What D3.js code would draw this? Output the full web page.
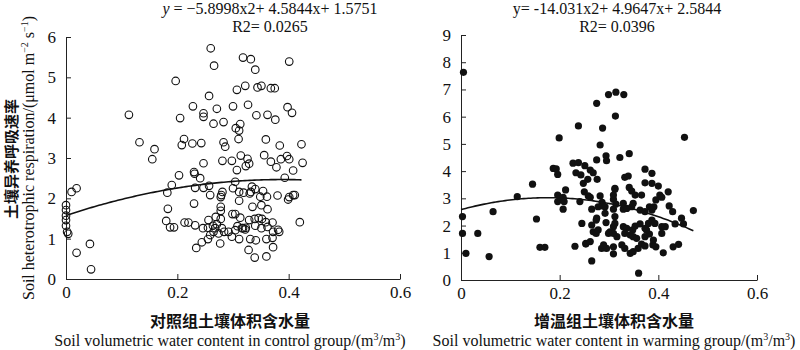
<!DOCTYPE html>
<html><head><meta charset="utf-8">
<script src="https://cdn.jsdelivr.net/npm/d3@7"></script>
<style>
body{margin:0;background:#fff;}
svg text{font-family:"Liberation Serif","Times New Roman",serif;fill:#111;}
svg text.cn{font-family:"Noto Sans CJK SC",sans-serif;font-weight:700;}
</style></head>
<body><svg id="c" width="800" height="350"></svg>
<script>
// ---- data ----
const ctrlX = [0,0,0,0,0,0.002,0.004,0.010,0.019,0.043,0.019,0.045,0.113,0.132,0.159,0.155,
0.260,0.318,0.332,0.401,0.266,0.340,0.197,0.307,0.322,0.344,0.351,0.368,0.375,0.257,0.228,0.271,0.300,0.327,0.398,0.406,
0.205,0.247,0.247,0.265,0.283,0.313,0.342,0.362,0.376,0.305,0.311,0.310,0.212,0.208,0.227,0.243,0.283,0.286,0.359,0.384,
0.247,0.281,0.298,0.314,0.326,0.329,0.323,0.307,0.356,0.368,0.386,0.397,0.401,0.378,0.408,0.393,0.230,0.231,0.203,0.241,
0.190,0.182,0.232,0.247,0.257,0.281,0.279,0.278,0.259,0.300,0.304,0.311,0.319,0.311,0.330,0.334,0.340,0.332,0.354,0.349,
0.361,0.380,0.401,0.408,0.183,0.230,0.278,0.278,0.269,0.299,0.304,0.313,0.335,0.351,0.362,0.180,0.187,0.194,0.213,0.220,
0.232,0.246,0.256,0.255,0.264,0.268,0.271,0.259,0.265,0.274,0.278,0.280,0.284,0.292,0.304,0.308,0.316,0.318,0.322,0.323,
0.329,0.339,0.346,0.352,0.340,0.351,0.359,0.362,0.371,0.372,0.381,0.383,0.234,0.244,0.255,0.277,0.298,0.311,0.331,0.341,
0.360,0.371,0.372,0.328,0.339,0.360,0.423,0.425,0.411,0.399,0.420];
const ctrlY = [1.83,1.71,1.57,1.46,1.32,1.17,1.12,2.16,2.25,0.87,0.65,0.24,4.07,3.39,3.22,2.97,
5.72,5.49,5.45,5.39,5.29,5.19,4.91,4.69,4.79,4.75,4.79,4.73,4.73,4.54,4.28,4.22,4.28,4.32,4.26,4.12,
3.99,4.11,4.02,3.85,3.89,3.84,4.06,4.07,3.95,3.74,3.68,3.47,3.47,3.32,3.36,3.37,3.39,3.28,3.46,3.31,
2.87,2.93,2.93,3.06,2.98,2.86,2.80,2.70,3.07,2.91,2.97,3.05,2.97,2.77,2.69,2.51,2.65,2.61,2.57,2.50,
2.33,2.14,2.26,2.26,2.31,2.16,2.08,2.03,2.08,2.25,2.41,2.16,2.14,1.94,2.12,2.29,2.23,2.16,2.18,2.04,
2.04,2.07,2.03,2.08,1.74,1.87,1.79,1.69,1.54,1.61,1.61,1.52,1.79,1.83,1.73,1.44,1.28,1.28,1.40,1.40,
1.33,1.26,1.46,1.27,1.32,1.26,1.36,1.09,1.17,1.13,1.49,1.26,1.17,1.17,1.21,1.31,1.26,1.26,1.23,1.27,
1.46,1.49,1.51,1.49,1.32,1.26,1.41,1.29,1.40,1.17,1.22,1.17,0.77,0.91,0.99,0.88,1.05,0.99,0.99,0.96,
0.99,1.02,0.79,0.72,0.53,0.56,3.34,2.88,2.08,1.97,1.41];

const warmX = [0.005,0.275,0.299,0.314,0.330,0.313,0.238,0.287,0.453,0.199,0.282,0.294,0.322,0.341,0.275,0.187,0.193,0.196,
0.227,0.238,0.233,0.243,0.251,0.262,0.268,0.257,0.276,0.295,0.145,0.114,0.065,0.003,0.153,0.196,0.196,0.207,0.212,0.207,
0.241,0.245,0.250,0.258,0.262,0.265,0.274,0.282,0.286,0.292,0.309,0.312,0.309,0.312,0.329,0.203,0.209,0.248,0.003,0.034,
0.010,0.057,0.160,0.170,0.231,0.253,0.265,0.360,0.332,0.339,0.373,0.387,0.373,0.387,0.400,0.312,0.309,0.341,0.346,0.353,
0.366,0.420,0.403,0.395,0.407,0.278,0.288,0.314,0.329,0.336,0.346,0.349,0.363,0.373,0.382,0.387,0.391,0.422,0.429,0.471,
0.447,0.434,0.451,0.275,0.292,0.294,0.309,0.312,0.329,0.336,0.348,0.353,0.363,0.373,0.380,0.387,0.393,0.407,0.414,0.268,
0.274,0.278,0.302,0.309,0.316,0.332,0.343,0.349,0.356,0.373,0.382,0.407,0.253,0.262,0.285,0.295,0.309,0.326,0.332,0.343,
0.349,0.359,0.366,0.373,0.389,0.395,0.410,0.430,0.441,0.265,0.299,0.289,0.309,0.376,0.390];
const warmY = [7.63,6.49,6.81,6.90,6.81,6.02,5.66,5.58,5.24,5.22,4.96,4.56,4.50,4.64,4.41,4.10,4.08,3.88,
4.29,4.31,3.94,3.86,4.20,4.04,3.94,3.70,3.70,4.38,3.52,3.06,2.51,2.33,2.24,3.12,2.88,3.04,3.31,2.60,
2.88,2.08,3.24,3.09,3.04,2.60,2.20,3.09,2.85,2.69,2.96,3.33,2.60,2.33,2.60,2.96,2.88,3.55,1.71,1.71,
0.98,0.86,1.20,1.20,1.24,1.32,0.70,0.25,3.77,3.82,4.07,3.92,3.57,3.55,3.45,3.37,3.12,3.40,3.27,3.12,
3.12,3.24,3.12,2.94,3.04,2.69,2.72,2.79,2.82,2.63,2.69,2.82,2.57,2.51,2.69,2.57,2.69,2.72,2.51,2.55,
2.27,2.06,2.06,2.27,2.45,2.11,1.96,2.08,1.96,1.90,1.84,1.98,2.06,1.90,2.08,2.20,2.08,1.96,1.96,1.77,
1.71,1.84,1.77,1.71,1.59,1.71,1.65,1.59,1.53,1.59,1.69,1.71,1.35,1.41,1.16,1.16,0.96,1.29,1.16,0.98,
1.04,1.16,1.32,1.25,1.29,1.22,1.00,1.22,1.31,2.02,1.71,1.29,1.22,1.84,1.47];

const xTicks = [0,0.2,0.4,0.6];
const ctrlYTicks = [0,1,2,3,4,5,6];
const warmYTicks = [0,1,2,3,4,5,6,7,8,9];
const ctrlCoef = [-5.8998, 4.5844, 1.5751];
const warmCoef = [-14.031, 4.9647, 2.5844];
const ctrlFitRange = [0, 0.423];
const warmFitRange = [0, 0.471];
const ctrlEq = "y = −5.8998x2+ 4.5844x+ 1.5751";
const ctrlR2 = "R2= 0.0265";
const warmEq = "y= -14.031x2+ 4.9647x+ 2.5844";
const warmR2 = "R2= 0.0396";
const ctrlTitleCn = "对照组土壤体积含水量";
const ctrlTitleEn = "Soil volumetric water content in control group/(m";
const warmTitleCn = "增温组土壤体积含水量";
const warmTitleEn = "Soil volumetric water content in warming group/(m";
const yTitleCn = "土壤异养呼吸速率";

// ---- drawing ----
const svg = d3.select("#c");
const SERIF = '"Liberation Serif","Times New Roman",serif';

function panel(o){
  const x = d3.scaleLinear().domain([0,0.6]).range([o.x0,o.x1]);
  const y = d3.scaleLinear().domain([0,o.ymax]).range([o.y0,o.y1]);
  const g = svg.append("g");
  const ax = g.append("g").attr("transform",`translate(0,${o.y0})`)
    .call(d3.axisBottom(x).tickValues(xTicks).tickFormat(d=>d===0?"0":d3.format(".1f")(d)).tickSizeInner(-5).tickSizeOuter(0).tickPadding(7));
  const ay = g.append("g").attr("transform",`translate(${o.x0},0)`)
    .call(d3.axisLeft(y).tickValues(o.yt).tickFormat(d3.format("d")).tickSizeInner(-5).tickSizeOuter(0).tickPadding(10));
  [ax,ay].forEach(a=>{
    a.attr("font-family",null).attr("font-size",null);
    a.selectAll("path,line").attr("stroke","#222").attr("stroke-width",1);
    a.selectAll("text").style("font-size","17px").style("font-family",SERIF).attr("fill","#111");
  });
  // points
  g.append("g").selectAll("circle").data(o.xs.map((d,i)=>[d,o.ys[i]])).join("circle")
    .attr("cx",d=>x(d[0])).attr("cy",d=>y(d[1])).attr("r",o.r)
    .attr("fill",o.filled?"#111":"#fff").attr("fill-opacity",o.filled?1:0)
    .attr("stroke","#111").attr("stroke-width",o.filled?0:1.1);
  // fit curve
  const c = o.coef;
  const xsF = d3.range(0,101).map(i=>o.fr[0]+(o.fr[1]-o.fr[0])*i/100);
  g.append("path").datum(xsF).attr("fill","none").attr("stroke","#111").attr("stroke-width",1.6)
    .attr("d",d3.line().x(d=>x(d)).y(d=>y(c[0]*d*d+c[1]*d+c[2])));
  // equation
  const eq = g.append("text").attr("x",o.eqx).attr("y",14).attr("text-anchor","middle").style("font-size","16px");
  if(o.eq.startsWith("y =")){
    eq.append("tspan").attr("font-style","italic").text("y");
    eq.append("tspan").text(o.eq.slice(1));
  } else eq.text(o.eq);
  g.append("text").attr("x",o.eqx).attr("y",32).attr("text-anchor","middle").style("font-size","16px").text(o.r2);
  // x titles
  g.append("text").attr("class","cn").attr("x",o.tx).attr("y",327).attr("text-anchor","middle").style("font-size","16px").text(o.tcn);
  const te = g.append("text").attr("x",o.tx).attr("y",346).attr("text-anchor","middle").style("font-size","16px");
  te.append("tspan").text(o.ten);
  te.append("tspan").style("font-size","10px").attr("dy",-6).text("3");
  te.append("tspan").attr("dy",6).text("/m");
  te.append("tspan").style("font-size","10px").attr("dy",-6).text("3");
  te.append("tspan").attr("dy",6).text(")");
}

panel({x0:66,x1:400,y0:279,y1:37,ymax:6,yt:ctrlYTicks,xs:ctrlX,ys:ctrlY,r:3.8,filled:false,
  coef:ctrlCoef,fr:ctrlFitRange,eq:ctrlEq,r2:ctrlR2,eqx:270,tx:230,tcn:ctrlTitleCn,ten:ctrlTitleEn});
panel({x0:461,x1:757,y0:280,y1:35,ymax:9,yt:warmYTicks,xs:warmX,ys:warmY,r:3.6,filled:true,
  coef:warmCoef,fr:warmFitRange,eq:warmEq,r2:warmR2,eqx:617,tx:614,tcn:warmTitleCn,ten:warmTitleEn});

// y titles
svg.append("text").attr("class","cn").attr("transform","translate(17,159) rotate(-90)")
  .attr("text-anchor","middle").style("font-size","15px").text(yTitleCn);
const yt = svg.append("text").attr("transform","translate(34,158) rotate(-90)").attr("text-anchor","middle").style("font-size","16px");
yt.append("tspan").text("Soil heterotrophic respiration/(μmol m");
yt.append("tspan").style("font-size","10px").attr("dy",-6).text("−2");
yt.append("tspan").attr("dy",6).text(" s");
yt.append("tspan").style("font-size","10px").attr("dy",-6).text("−1");
yt.append("tspan").attr("dy",6).text(")");
</script></body></html>
